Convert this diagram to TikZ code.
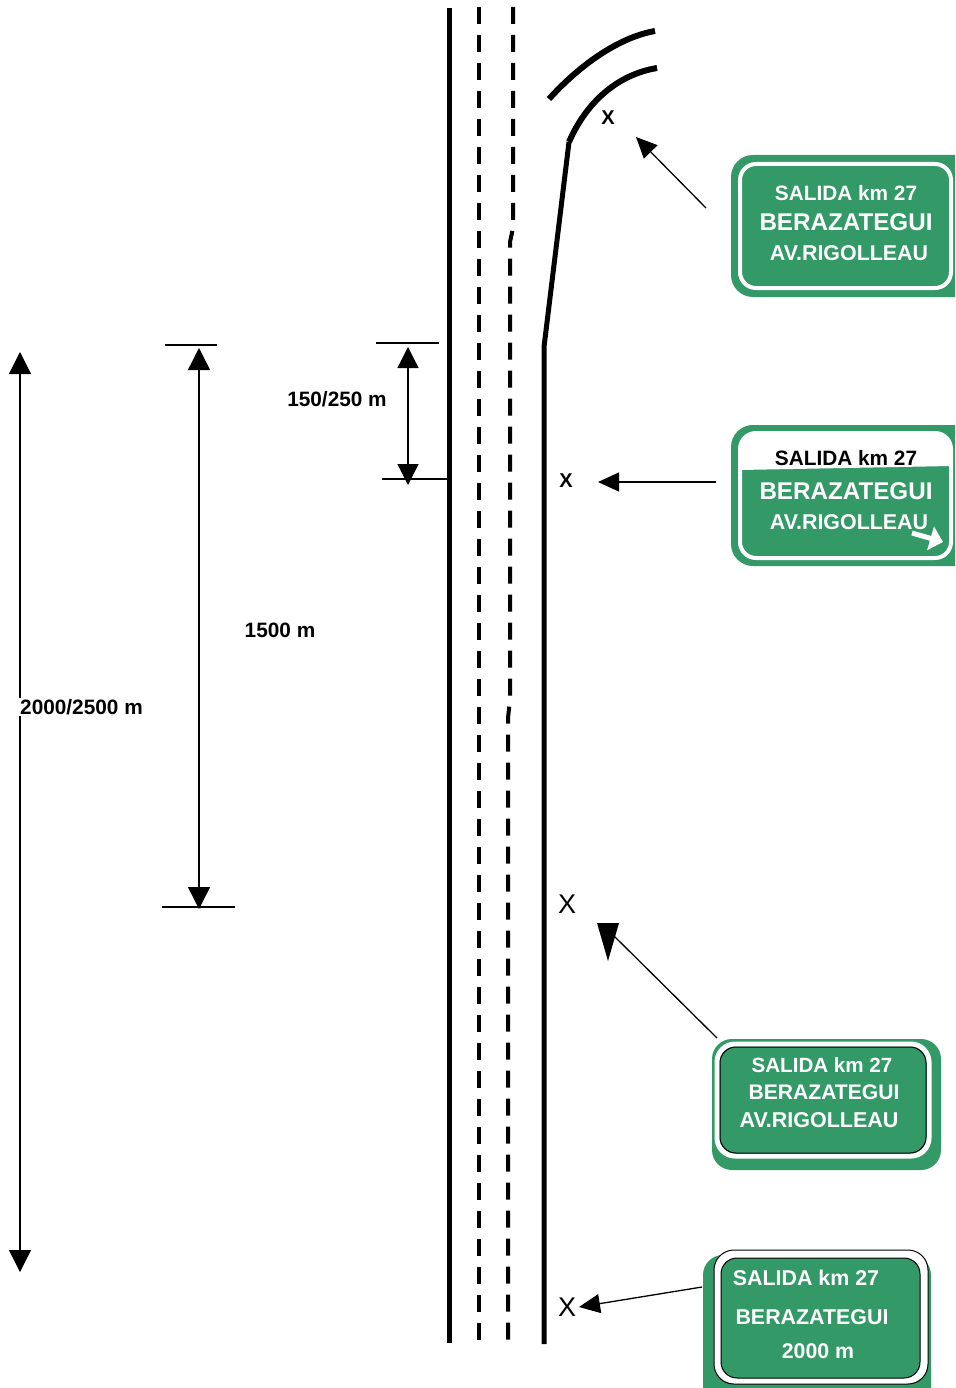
\documentclass[tikz,border=0pt]{standalone}
\usepackage{fontspec}
\setmainfont{Liberation Sans}
\usetikzlibrary{arrows.meta}
\definecolor{signgreen}{RGB}{51,153,102}
\newcommand{\fsb}[1]{\fontsize{#1}{#1}\selectfont\bfseries}
\newcommand{\fsr}[1]{\fontsize{#1}{#1}\selectfont}
\begin{document}
\begin{tikzpicture}[x=1pt,y=-1pt,
  road/.style={line width=5pt},
  curveline/.style={line width=6pt},
  lane/.style={line width=4pt, dash pattern=on 17pt off 11pt},
  dim/.style={line width=1.3pt, {Triangle[length=22pt,width=22pt]}-{Triangle[length=22pt,width=22pt]}},
  tickline/.style={line width=1.3pt},
  ptr/.style={line width=1.3pt, -{Triangle[length=21pt,width=19pt]}},
  lbl/.style={font=\fsb{20.8}, inner sep=0pt},
  stxt/.style={text=white, inner sep=0pt},
  smark/.style={font=\fsb{20}, inner sep=0pt},
  bmark/.style={font=\fsr{27}, inner sep=0pt}]
\useasboundingbox (0,0) rectangle (955,1388);
\clip (0,0) rectangle (955,1388);

% road
\draw[road] (449,8) -- (449,1343);
\draw[lane] (479,7) -- (479,1343);
\draw[lane] (513,7) -- (513,228) -- (510,242) -- (510,700) -- (508,718) -- (508,1343);
\draw[road] (544,1344) -- (544,347) -- (569,142);
\draw[curveline] (569,142) .. controls (585,105) and (615,75) .. (657,68);
\draw[curveline] (549,99) .. controls (575,70) and (615,38) .. (655,31);

% dimension 2000/2500
\coordinate (d1a) at (20,352);
\coordinate (d1b) at (20,1272);
\draw[dim] (d1a) -- (d1b);
\node[lbl, fill=white, anchor=west, inner sep=1pt] (l1) at (19,707) {2000/2500 m};

% dimension 1500
\coordinate (t2a) at (165,345); \coordinate (t2b) at (217,345);
\coordinate (t3a) at (162,907); \coordinate (t3b) at (235,907);
\draw[tickline] (t2a) -- (t2b);
\draw[tickline] (t3a) -- (t3b);
\coordinate (d2a) at (199,348);
\coordinate (d2b) at (199,909);
\draw[dim] (d2a) -- (d2b);
\node[lbl] (l2) at (280,630) {1500 m};

% dimension 150/250
\coordinate (t4a) at (376,343); \coordinate (t4b) at (439,343);
\coordinate (t5a) at (382,479); \coordinate (t5b) at (449,479);
\draw[tickline] (t4a) -- (t4b);
\draw[tickline] (t5a) -- (t5b);
\coordinate (d3a) at (408,347);
\coordinate (d3b) at (408,485);
\draw[line width=1.3pt, {Triangle[length=21pt,width=21pt]}-{Triangle[length=21pt,width=21pt]}] (d3a) -- (d3b);
\node[lbl] (l3) at (337,399) {150/250 m};

% X marks
\node[smark] (x1) at (608,118) {X};
\node[smark] (x2) at (566,481) {X};
\node[bmark] (x3) at (567,904) {X};
\node[bmark] (x4) at (567,1307) {X};

% sign 1
\fill[signgreen, rounded corners=22pt] (731,155) rectangle (985,297);
\draw[white, line width=4pt, rounded corners=16pt] (740,164) rectangle (951,288);
\node[stxt, font=\fsb{20.8}] (s1a) at (846,193) {SALIDA km 27};
\node[stxt, font=\fsb{24.2}] (s1b) at (846,222) {BERAZATEGUI};
\node[stxt, font=\fsb{21.4}] (s1c) at (849,253) {AV.RIGOLLEAU};
\coordinate (p1s) at (706,208);
\coordinate (p1e) at (636,137);
\draw[ptr] (p1s) -- (p1e);

% sign 2
\fill[signgreen, rounded corners=22pt] (731,425) rectangle (985,566);
\begin{scope}
\clip[rounded corners=16pt] (740,433) rectangle (952,558);
\fill[white] (740,433) -- (952,433) -- (952,466) -- (740,470) -- cycle;
\end{scope}
\draw[white, line width=4pt, rounded corners=16pt] (740,433) rectangle (951,558);
\node[inner sep=0pt, font=\fsb{20.8}] (s2a) at (846,458) {SALIDA km 27};
\node[stxt, font=\fsb{24.2}] (s2b) at (846,491) {BERAZATEGUI};
\node[stxt, font=\fsb{21.4}] (s2c) at (849,522) {AV.RIGOLLEAU};
\coordinate (ar1) at (912,533);
\coordinate (ar2) at (943,542);
\draw[white, line width=5pt, -{Triangle[length=13pt,width=24pt]}] (ar1) -- (ar2);
\coordinate (p2s) at (716,482);
\coordinate (p2e) at (598,482);
\draw[ptr] (p2s) -- (p2e);

% sign 3
\fill[signgreen, rounded corners=20pt] (712,1039) rectangle (941,1170);
\draw[white, line width=5pt, rounded corners=18pt] (717,1044) rectangle (929,1156);
\filldraw[fill=signgreen, draw=black, line width=1pt, rounded corners=16pt] (720,1047) rectangle (926,1153);
\node[stxt, font=\fsb{20.6}] (s3a) at (822,1065) {SALIDA km 27};
\node[stxt, font=\fsb{21.1}] (s3b) at (824,1092) {BERAZATEGUI};
\node[stxt, font=\fsb{21.5}] (s3c) at (819,1120) {AV.RIGOLLEAU};
\coordinate (p3s) at (717,1038);
\coordinate (p3e) at (612,934);
\draw[line width=1.3pt] (p3s) -- (p3e);
\fill (597,923) -- (619,923) -- (608,961) -- cycle;

% sign 4
\fill[signgreen, rounded corners=20pt] (703,1255) rectangle (931,1410);
\filldraw[fill=white, draw=black, line width=1pt, rounded corners=20pt] (714,1250) rectangle (928,1384);
\filldraw[fill=signgreen, draw=black, line width=1pt, rounded corners=16pt] (721,1258) rectangle (920,1378);
\node[stxt, font=\fsb{21.4}] (s4a) at (806,1278) {SALIDA km 27};
\node[stxt, font=\fsb{21.4}] (s4b) at (812,1317) {BERAZATEGUI};
\node[stxt, font=\fsb{21.3}] (s4c) at (818,1351) {2000 m};
\coordinate (p4s) at (702,1287);
\coordinate (p4e) at (579,1307);
\draw[ptr] (p4s) -- (p4e);
\end{tikzpicture}
\end{document}
